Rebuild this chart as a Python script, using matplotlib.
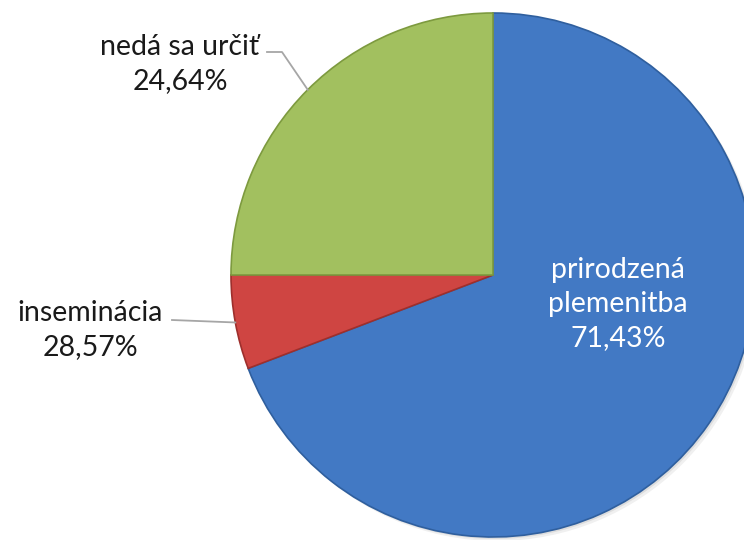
import numpy as np
import matplotlib.pyplot as plt

# slice sizes as drawn in the picture (percent of the circle)
shares = [69.2, 5.8, 25.0]
labels = ['prirodzená\nplemenitba\n71,43%', 'inseminácia\n28,57%', 'nedá sa určiť\n24,64%']
colors = ['#4279c4', '#cf4542', '#a2c05f']
edges = ['#2f5f9e', '#9e2f2c', '#7d9a3f']

W, H = 744, 540
fig = plt.figure(figsize=(W / 100, H / 100), dpi=100)
ax = fig.add_axes([0, 0, 1, 1])

cx, cy, R = 493, H - 275, 262

# soft shadow below the pie
for k, a in [(4, 0.06), (2, 0.08)]:
    ax.add_patch(plt.Circle((cx + k, cy - k), R, color='black', alpha=a, lw=0))

wedges, _ = ax.pie(shares, colors=colors, startangle=90, counterclock=False,
                   center=(cx, cy), radius=R)
for w, ec in zip(wedges, edges):
    w.set_edgecolor(ec)
    w.set_linewidth(1.2)

ax.set_xlim(0, W)
ax.set_ylim(0, H)
ax.set_aspect('equal')
ax.axis('off')

font = 'Lato'
fs = 20.5
ls = 1.38

# label inside the blue slice
ax.text(618, H - 304, labels[0], ha='center', va='center', color='white',
        fontsize=fs, family=font, linespacing=ls)

# outside labels with leader lines to the middle of each slice
outside = [(1, (90, H - 330), (172, H - 320)),
           (2, (180, H - 64), (267, H - 52))]
for i, (tx, ty), (lx, ly) in outside:
    w = wedges[i]
    mid = np.deg2rad((w.theta1 + w.theta2) / 2)
    px, py = cx + R * np.cos(mid), cy + R * np.sin(mid)
    ax.text(tx, ty, labels[i], ha='center', va='center', color='#1a1a1a',
            fontsize=fs, family=font, linespacing=ls)
    if i == 2:
        ax.plot([lx, lx + 15, px], [ly, ly, py], color='#a6a6a6', lw=1.3)
    else:
        ax.plot([lx, px], [ly, py], color='#a6a6a6', lw=1.3)

fig.savefig('out.png', dpi=100)
